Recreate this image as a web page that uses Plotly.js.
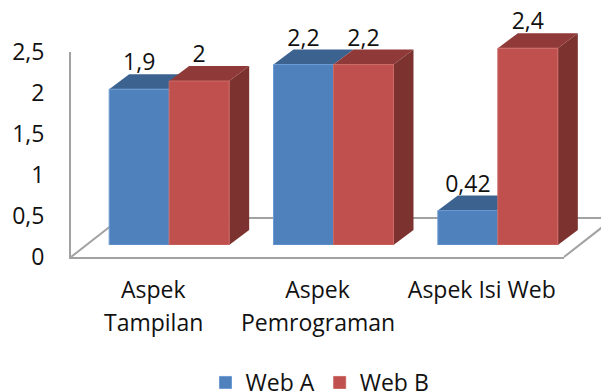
<!DOCTYPE html>
<html>
<head>
<meta charset="utf-8">
<script src="https://cdn.plot.ly/plotly-3.0.1.min.js"></script>
<style>html,body{margin:0;padding:0;background:#fff;overflow:hidden}</style>
</head>
<body>
<div id="chart" style="width:601px;height:391px"></div>
<script>
// Chart values
const firstLines = ['Aspek', 'Aspek', 'Aspek Isi Web'];
const secondLines = ['Tampilan', 'Pemrograman', ''];
const seriesNames = ['Web A', 'Web B'];
const webA = [1.9, 2.2, 0.42];
const webB = [2, 2.2, 2.4];
const valueTicks = [0, 0.5, 1, 1.5, 2, 2.5];

// Page geometry, in pixels
const W = 601, H = 391;
const pxPerUnit = 82, pxPerCategory = 164.33;
const axisLeft = 71, axisRight = 564, axisBase = 257, axisTop = 52;
const frontShift = 16, frontBase = 245;
const depthX = 20, depthY = 15;
const floorX = 50, floorY = 39;
const fontSize = 23;
const labelDrop = 2;

// Depth of the extruded bars, in data units of the front plane
const dx = depthX / pxPerCategory, dy = depthY / pxPerUnit;
const barW = 60 / pxPerCategory;

const colors = {
  a: {front: '#4f81bd', edge: '#6c9bd4', top: '#3c6290'},
  b: {front: '#c0504d', edge: '#cb6a67', top: '#8f3a38', side: '#7c322f'}
};
const centers = firstLines.map((_, i) => i);
const comma = v => String(v).replace('.', ',');

function polygon(xs, ys, color) {
  return {type: 'scatter', mode: 'lines', x: xs, y: ys, fill: 'toself', fillcolor: color,
    line: {width: 0, color: color}, xaxis: 'x2', yaxis: 'y2', showlegend: false, hoverinfo: 'skip'};
}
function topFace(left, v, color) {
  return polygon([left, left + barW, left + barW + dx, left + dx, left],
                 [v, v, v + dy, v + dy, v], color);
}
function sideFace(left, v, color) {
  const r = left + barW;
  return polygon([r, r + dx, r + dx, r, r], [0, dy, v + dy, v, 0], color);
}

// Receding faces sit in one layer, the front faces of the bars in another above it
const faces = [];
centers.forEach(i => faces.push(topFace(i - barW, webA[i], colors.a.top)));
centers.forEach(i => faces.push(topFace(i, webB[i], colors.b.top)));
centers.forEach(i => faces.push(sideFace(i, webB[i], colors.b.side)));

const fronts = [
  {name: seriesNames[0], values: webA, offset: -barW, c: colors.a},
  {name: seriesNames[1], values: webB, offset: 0, c: colors.b}
].map(s => ({type: 'bar', name: s.name, x: centers, y: s.values, width: barW, offset: s.offset,
  marker: {color: s.c.front, line: {color: s.c.edge, width: 1}},
  xaxis: 'x3', yaxis: 'y3', hoverinfo: 'skip'}));

function valueLabels(values, offset) {
  return {type: 'scatter', mode: 'text', x: centers.map(i => i + offset),
    y: values.map(v => v + dy - labelDrop / pxPerUnit), text: values.map(comma), textposition: 'top center',
    textfont: {family: 'Open Sans', size: fontSize, color: '#111'},
    xaxis: 'x3', yaxis: 'y3', showlegend: false, hoverinfo: 'skip', cliponaxis: false};
}
const labels = [valueLabels(webA, -barW / 2), valueLabels(webB, barW / 2)];

const px = x => x / W, py = y => 1 - y / H;
const floorLine = (x0, y0, x1, y1) => ({type: 'line', xref: 'paper', yref: 'paper', layer: 'below',
  x0: px(x0), y0: py(y0), x1: px(x1), y1: py(y1), line: {color: '#a2a2a2', width: 2}});

const hiddenAxis = {visible: false, fixedrange: true};
const catRange = [-0.5, 2.5];
const frontDomainX = [px(axisLeft + frontShift), px(axisRight + frontShift)];
const frontDomainY = [py(frontBase), 1];
const frontRange = [0, frontBase / pxPerUnit];

const layout = {
  width: W, height: H,
  margin: {l: 0, r: 0, t: 0, b: 0, autoexpand: false},
  paper_bgcolor: '#fff', plot_bgcolor: 'rgba(0,0,0,0)',
  separators: ',.',
  font: {family: 'Open Sans', size: fontSize, color: '#111'},
  barmode: 'overlay',
  xaxis: {domain: [px(axisLeft), px(axisRight)], range: catRange, tickmode: 'array',
    tickvals: centers, ticktext: firstLines, ticks: '', ticklen: 0, ticklabelstandoff: 11,
    showgrid: false, zeroline: false, showline: true, linecolor: '#a2a2a2', linewidth: 2,
    anchor: 'y', fixedrange: true},
  yaxis: {domain: [py(axisBase), py(axisTop)], range: [0, 2.5], tickmode: 'array',
    tickvals: valueTicks, tickformat: '~g', ticks: '', ticklabelstandoff: 20,
    showgrid: false, zeroline: false, showline: true, linecolor: '#a2a2a2', linewidth: 2,
    anchor: 'x', fixedrange: true},
  xaxis2: Object.assign({domain: frontDomainX, range: catRange, anchor: 'y2'}, hiddenAxis),
  yaxis2: Object.assign({domain: frontDomainY, range: frontRange, anchor: 'x2'}, hiddenAxis),
  xaxis3: Object.assign({domain: frontDomainX, range: catRange, anchor: 'y3', overlaying: 'x2'}, hiddenAxis),
  yaxis3: Object.assign({domain: frontDomainY, range: frontRange, anchor: 'x3', overlaying: 'y2'}, hiddenAxis),
  shapes: [
    floorLine(axisLeft, axisBase, axisLeft + floorX, axisBase - floorY),
    floorLine(axisLeft + floorX, axisBase - floorY, axisRight + floorX, axisBase - floorY),
    floorLine(axisRight, axisBase, axisRight + floorX, axisBase - floorY)
  ],
  annotations: centers.filter(i => secondLines[i]).map(i => ({
    xref: 'x', yref: 'paper', x: i, y: py(322), text: secondLines[i], showarrow: false,
    xanchor: 'center', yanchor: 'middle', font: {family: 'Open Sans', size: fontSize, color: '#111'}
  })),
  showlegend: true,
  legend: {orientation: 'h', xref: 'paper', yref: 'paper', x: px(320), xanchor: 'center',
    y: py(361), yanchor: 'top', itemwidth: 30, tracegroupgap: 0,
    font: {family: 'Open Sans', size: fontSize, color: '#111'},
    bgcolor: 'rgba(0,0,0,0)', itemclick: false, itemdoubleclick: false}
};

// A placeholder trace keeps the primary axes on the page
const axisHolder = {type: 'scatter', mode: 'markers', x: [0], y: [0], marker: {opacity: 0},
  xaxis: 'x', yaxis: 'y', showlegend: false, hoverinfo: 'skip'};

Plotly.newPlot('chart', [axisHolder].concat(faces, fronts, labels), layout,
  {displayModeBar: false, staticPlot: true});
</script>
</body>
</html>
